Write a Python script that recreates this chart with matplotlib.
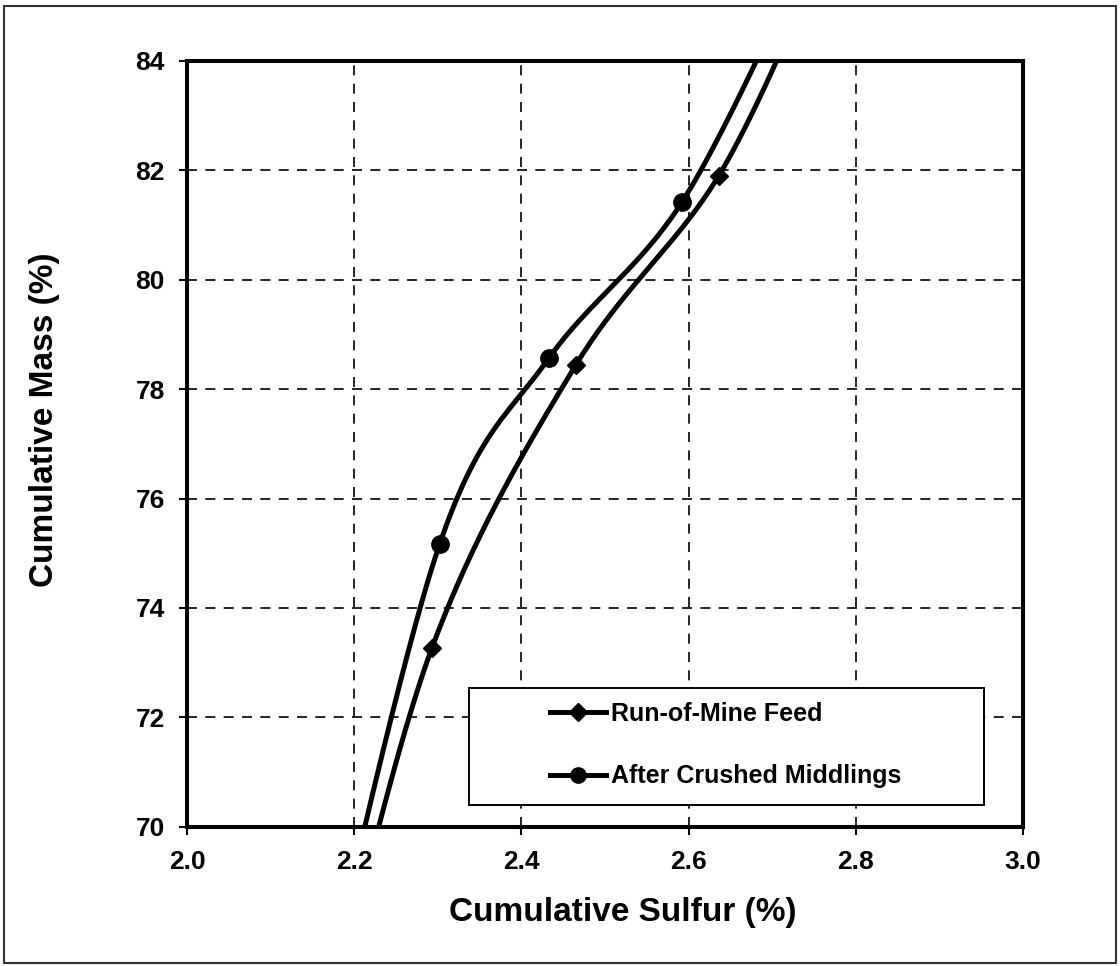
import numpy as np
import matplotlib
matplotlib.use("Agg")
import matplotlib.pyplot as plt
from matplotlib.patches import Rectangle
from matplotlib.lines import Line2D

# Cumulative sulfur (%) vs cumulative mass (%) for two washability cases.
# First and last entries of each series lie beyond the plotted window.
rom_sulfur = [2.164, 2.293, 2.465, 2.636, 2.763]
rom_mass = [66.0, 73.27, 78.44, 81.90, 86.0]

acm_sulfur = [2.151, 2.302, 2.433, 2.5925, 2.743]
acm_mass = [66.0, 75.16, 78.57, 81.43, 86.0]

series_labels = ["Run-of-Mine Feed", "After Crushed Middlings"]
x_ticks = [2.0, 2.2, 2.4, 2.6, 2.8, 3.0]
y_ticks = [70, 72, 74, 76, 78, 80, 82, 84]

plt.rcParams["font.family"] = ["Liberation Sans", "DejaVu Sans"]
plt.rcParams["font.weight"] = "bold"

fig = plt.figure(figsize=(11.2, 9.66), dpi=100)
ax = fig.add_axes([0.167, 0.1442, 0.7464, 0.7927])
ax.set_xlim(2.0, 3.0)
ax.set_ylim(70, 84)


def smooth_curve(ax, xs, ys, steps=60):
    """Bezier smoothing (Catmull-Rom style) computed in display space."""
    pts = ax.transData.transform(np.column_stack([xs, ys]))
    n = len(pts)
    out = [pts[0]]
    t = np.linspace(0, 1, steps)[1:, None]
    for i in range(n - 1):
        p0 = pts[i - 1] if i > 0 else pts[i]
        p1 = pts[i]
        p2 = pts[i + 1]
        p3 = pts[i + 2] if i + 2 < n else pts[i + 1]
        c1 = p1 + (p2 - p0) / 6.0
        c2 = p2 - (p3 - p1) / 6.0
        seg = ((1 - t) ** 3) * p1 + 3 * ((1 - t) ** 2) * t * c1 \
            + 3 * (1 - t) * t ** 2 * c2 + t ** 3 * p2
        out.extend(seg)
    out = np.array(out)
    data = ax.transData.inverted().transform(out)
    return data[:, 0], data[:, 1]


line_w = 3.6
for xs, ys, mk, ms in [(rom_sulfur, rom_mass, "D", 9.5),
                       (acm_sulfur, acm_mass, "o", 12.5)]:
    sx, sy = smooth_curve(ax, xs, ys)
    ax.plot(sx, sy, color="black", linewidth=line_w, solid_capstyle="butt", zorder=3)
    ax.plot(xs, ys, linestyle="none", marker=mk, markersize=ms,
            color="black", zorder=4)

ax.set_xticks(x_ticks)
ax.set_yticks(y_ticks)
ax.set_xticklabels([f"{v:.1f}" for v in x_ticks])
ax.set_yticklabels([str(v) for v in y_ticks])
ax.tick_params(axis="both", direction="out", length=6, width=1.5,
               labelsize=19, color="black")
ax.tick_params(axis="x", pad=11)
ax.tick_params(axis="y", pad=10)
for lbl in ax.get_xticklabels() + ax.get_yticklabels():
    lbl.set_fontweight("bold")

ax.grid(True, color="black", linewidth=1.2, linestyle=(0, (6, 5)))
ax.set_axisbelow(True)
for sp in ax.spines.values():
    sp.set_linewidth(2.9)
    sp.set_color("black")

ax.set_xlabel("Cumulative Sulfur (%)", fontsize=24, fontweight="bold")
ax.xaxis.set_label_coords(0.5215, -0.1114)
ax.xaxis.label.set_va("center")
ax.set_ylabel("Cumulative Mass (%)", fontsize=24, fontweight="bold")
ax.yaxis.set_label_coords(-0.171, 0.531)
ax.yaxis.label.set_va("center")

# Legend box (white panel with thin border) and centred legend entries
ax.add_patch(Rectangle((0.3373, 0.0283), 0.616, 0.1528, transform=ax.transAxes,
                       facecolor="white", edgecolor="black", linewidth=1.4,
                       zorder=5))
handles = [
    Line2D([], [], color="black", linewidth=line_w, marker="D", markersize=9),
    Line2D([], [], color="black", linewidth=line_w, marker="o", markersize=11),
]
leg = ax.legend(handles, series_labels, loc="center",
                bbox_to_anchor=(0.6447, 0.1067), frameon=False,
                fontsize=18, handlelength=2.24, handletextpad=0.2,
                labelspacing=1.55, borderpad=0.0, borderaxespad=0.0)
for t in leg.get_texts():
    t.set_fontweight("bold")
leg.set_zorder(6)

# Outer chart frame
fig.patches.append(Rectangle((0.004, 0.003), 0.992, 0.991, transform=fig.transFigure,
                             fill=False, edgecolor="#333333", linewidth=1.5))

fig.savefig("out.png", dpi=100, facecolor="white")
